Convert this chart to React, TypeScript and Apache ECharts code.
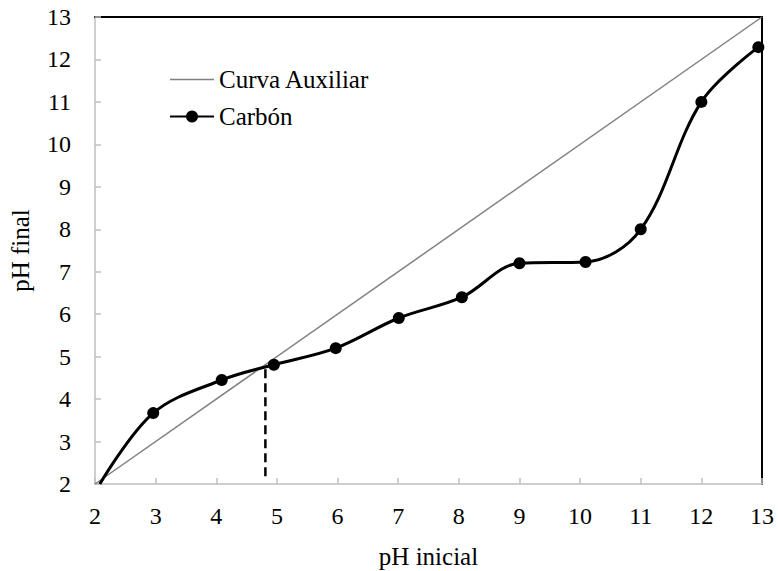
import React, { useEffect, useRef } from "react";
import * as echarts from "echarts";

const phInicial = [2.08, 2.96, 4.09, 4.95, 5.97, 7.01, 8.05, 9.0, 10.09, 11.0, 12.0, 12.94];
const phFinal = [2.0, 3.67, 4.45, 4.81, 5.2, 5.91, 6.4, 7.2, 7.23, 8.0, 11.0, 12.29];
const auxX = [2, 13];
const auxY = [2, 13];
const pzcX = [4.81, 4.81];
const pzcY = [2.18, 4.72];
const ticks = [2, 3, 4, 5, 6, 7, 8, 9, 10, 11, 12, 13];

const FONT = "Liberation Serif, serif";

export default function App() {
  const ref = useRef<HTMLDivElement>(null);
  useEffect(() => {
    if (!ref.current) return;
    const chart = echarts.init(ref.current, undefined, { renderer: "svg" });
    const carbon = phInicial.map((x, i) =>
      i === 0 ? { value: [x, phFinal[i]], symbol: "none" } : { value: [x, phFinal[i]] }
    );
    const labelStyle = { fontFamily: FONT, fontSize: 24, color: "#000", fontWeight: "normal" };
    chart.setOption({
      animation: false,
      backgroundColor: "#ffffff",
      textStyle: { fontFamily: FONT },
      grid: { left: 95, right: 16, top: 17, bottom: 87, containLabel: false, outerBoundsMode: "none" },
      legend: {
        data: [
          { name: "Curva Auxiliar", icon: "path://M0,0 L43,0 L43,1.6 L0,1.6 Z" },
          { name: "Carbón" },
        ],
        orient: "vertical",
        left: 164,
        top: 62,
        itemWidth: 44,
        itemHeight: 15,
        itemGap: 12,
        textStyle: { fontFamily: FONT, fontSize: 25, color: "#000" },
      },
      xAxis: [
        {
          type: "value",
          min: ticks[0],
          max: ticks[ticks.length - 1],
          interval: 1,
          name: "pH inicial",
          nameLocation: "middle",
          nameGap: 60,
          nameTextStyle: { fontFamily: FONT, fontSize: 25, color: "#000" },
          axisLine: { lineStyle: { color: "#bfbfbf", width: 1.5 } },
          axisTick: { inside: true, length: 6, lineStyle: { color: "#bfbfbf", width: 1.5 } },
          axisLabel: { ...labelStyle, margin: 20 },
          splitLine: { show: false },
        },
        {
          type: "value",
          position: "top",
          min: 2,
          max: 13,
          interval: 1,
          axisLine: { show: true, lineStyle: { color: "#000", width: 2 } },
          axisTick: { show: false },
          axisLabel: { show: false },
          splitLine: { show: false },
        },
      ],
      yAxis: [
        {
          type: "value",
          min: ticks[0],
          max: ticks[ticks.length - 1],
          interval: 1,
          name: "pH final",
          nameLocation: "middle",
          nameGap: 62,
          nameTextStyle: { fontFamily: FONT, fontSize: 25, color: "#000" },
          axisLine: { show: true, lineStyle: { color: "#bfbfbf", width: 1.5 } },
          axisTick: { show: true, inside: true, length: 6, lineStyle: { color: "#bfbfbf", width: 1.5 } },
          axisLabel: { ...labelStyle, margin: 24 },
          splitLine: { show: false },
        },
        {
          type: "value",
          position: "right",
          min: 2,
          max: 13,
          interval: 1,
          axisLine: { show: true, lineStyle: { color: "#000", width: 2 } },
          axisTick: { show: false },
          axisLabel: { show: false },
          splitLine: { show: false },
        },
      ],
      series: [
        {
          name: "Curva Auxiliar",
          type: "line",
          data: auxX.map((x, i) => [x, auxY[i]]),
          symbol: "none",
          lineStyle: { color: "#808080", width: 1.5 },
          itemStyle: { color: "#808080" },
          z: 2,
        },
        {
          name: "Carbón",
          type: "line",
          data: carbon,
          smooth: 0.35,
          symbol: "circle",
          symbolSize: 12,
          lineStyle: { color: "#000", width: 3 },
          itemStyle: { color: "#000" },
          z: 3,
        },
        {
          name: "pzc",
          type: "line",
          data: pzcX.map((x, i) => [x, pzcY[i]]),
          symbol: "none",
          lineStyle: { color: "#000", width: 2.5, type: [9, 5] },
          z: 4,
        },
      ],
    });
    return () => chart.dispose();
  }, []);
  return (
    <div
      ref={ref}
      style={{ position: "absolute", left: 0, top: 0, width: 778, height: 571 }}
    />
  );
}
